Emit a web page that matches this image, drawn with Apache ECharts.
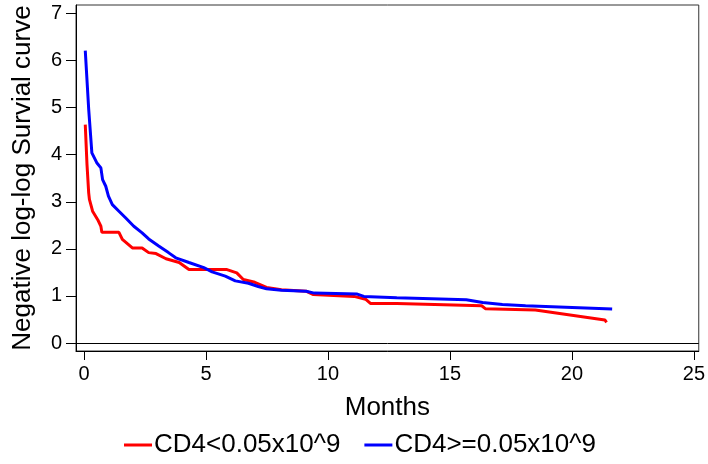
<!DOCTYPE html>
<html>
<head>
<meta charset="utf-8">
<script src="https://cdn.jsdelivr.net/npm/echarts@6/dist/echarts.min.js"></script>
<style>html,body{margin:0;padding:0;background:#fff;}#c{width:708px;height:464px;}</style>
</head>
<body>
<div id="c"></div>
<script>
var seriesNames = ['CD4<0.05x10^9', 'CD4>=0.05x10^9'];
var xTicks = [0, 5, 10, 15, 20, 25];
var yTicks = [0, 1, 2, 3, 4, 5, 6, 7];

var lowMonths = [0.05, 0.12, 0.19, 0.22, 0.35, 0.56, 0.69, 0.73, 1.43, 1.57, 1.98, 2.38, 2.65, 2.95, 3.36, 3.9, 4.3, 5.86, 6.26, 6.53, 7.0, 7.48, 8.09, 9.1, 9.4, 11.07, 11.54, 11.74, 12.82, 16.3, 16.45, 18.5, 21.35, 21.42];
var lowValues = [4.64, 3.8, 3.19, 3.05, 2.8, 2.62, 2.48, 2.35, 2.35, 2.2, 2.02, 2.02, 1.92, 1.9, 1.79, 1.71, 1.56, 1.56, 1.49, 1.35, 1.29, 1.18, 1.13, 1.1, 1.03, 0.99, 0.93, 0.84, 0.84, 0.79, 0.73, 0.7, 0.49, 0.44];

var highMonths = [0.05, 0.19, 0.27, 0.32, 0.52, 0.69, 0.76, 0.89, 1.0, 1.16, 1.43, 1.7, 2.04, 2.38, 2.65, 3.06, 3.46, 3.76, 4.3, 4.91, 5.25, 5.79, 6.2, 6.74, 7.14, 7.48, 8.09, 9.1, 9.44, 11.2, 11.47, 12.82, 15.67, 16.34, 17.15, 18.1, 21.65];
var highValues = [6.21, 4.97, 4.95, 4.04, 3.83, 3.72, 3.47, 3.33, 3.12, 2.94, 2.8, 2.66, 2.48, 2.34, 2.21, 2.06, 1.92, 1.81, 1.71, 1.6, 1.51, 1.42, 1.32, 1.27, 1.2, 1.15, 1.12, 1.1, 1.06, 1.04, 0.99, 0.96, 0.92, 0.86, 0.82, 0.79, 0.72];

function pairs(xs, ys) { return xs.map(function (x, i) { return [x, ys[i]]; }); }

var FONT = "'Liberation Sans', Arial, sans-serif";
var chart = echarts.init(document.getElementById('c'), null, {renderer: 'canvas'});
chart.setOption({
  animation: false,
  backgroundColor: '#fff',
  grid: {left: 76, right: 4, top: 5, bottom: 113, show: true, borderColor: '#333', borderWidth: 1, backgroundColor: 'transparent'},
  legend: {
    bottom: 6, left: 124, padding: 0,
    icon: 'rect', itemWidth: 28, itemHeight: 3, itemGap: 24,
    textStyle: {fontFamily: FONT, fontSize: 26, color: '#000', padding: [0, 0, 0, -3]},
    data: seriesNames
  },
  xAxis: {
    type: 'value', min: -0.33, max: 25.2,
    name: 'Months', nameLocation: 'middle', nameGap: 44,
    nameTextStyle: {fontFamily: FONT, fontSize: 26, color: '#000'},
    axisLine: {show: true, onZero: false, lineStyle: {color: '#000', width: 1}},
    axisTick: {show: true, length: 9, customValues: xTicks, lineStyle: {color: '#000'}},
    axisLabel: {customValues: xTicks, margin: 13, fontFamily: FONT, fontSize: 20, color: '#000'},
    splitLine: {show: false}
  },
  yAxis: {
    type: 'value', min: -0.17, max: 7.18,
    name: 'Negative log-log Survial curve', nameLocation: 'middle', nameGap: 40,
    nameTextStyle: {fontFamily: FONT, fontSize: 26, color: '#000'},
    axisLine: {show: true, onZero: false, lineStyle: {color: '#000', width: 1}},
    axisTick: {show: true, length: 10, customValues: yTicks, lineStyle: {color: '#000'}},
    axisLabel: {customValues: yTicks, margin: 14, fontFamily: FONT, fontSize: 20, color: '#000'},
    splitLine: {show: false}
  },
  series: [
    {
      name: seriesNames[0], type: 'line', data: pairs(lowMonths, lowValues),
      showSymbol: false, symbol: 'none', color: '#ff0000',
      lineStyle: {color: '#ff0000', width: 3},
      markLine: {silent: true, symbol: 'none', label: {show: false},
        lineStyle: {color: '#000', width: 1, type: 'solid'}, data: [{yAxis: 0}]}
    },
    {
      name: seriesNames[1], type: 'line', data: pairs(highMonths, highValues),
      showSymbol: false, symbol: 'none', color: '#0000ff',
      lineStyle: {color: '#0000ff', width: 3}
    }
  ]
});
</script>
</body>
</html>
